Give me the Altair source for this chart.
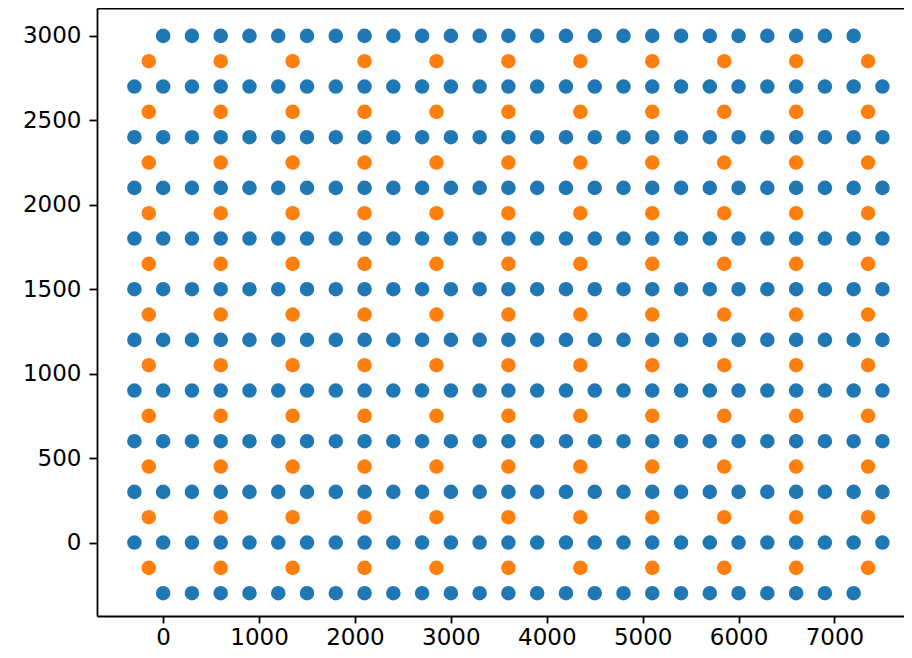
import altair as alt
import pandas as pd

# Blue grid: rows and their x positions
blue_rows_full = [0, 300, 600, 900, 1200, 1500, 1800, 2100, 2400, 2700]
blue_rows_edge = [-300, 3000]
blue_x_full = [-300, 0, 300, 600, 900, 1200, 1500, 1800, 2100, 2400, 2700, 3000, 3300, 3600,
               3900, 4200, 4500, 4800, 5100, 5400, 5700, 6000, 6300, 6600, 6900, 7200, 7500]
blue_x_edge = [0, 300, 600, 900, 1200, 1500, 1800, 2100, 2400, 2700, 3000, 3300, 3600,
               3900, 4200, 4500, 4800, 5100, 5400, 5700, 6000, 6300, 6600, 6900, 7200]

# Orange grid
orange_x = [-150, 600, 1350, 2100, 2850, 3600, 4350, 5100, 5850, 6600, 7350]
orange_y = [-150, 150, 450, 750, 1050, 1350, 1650, 1950, 2250, 2550, 2850]

x_ticks = [0, 1000, 2000, 3000, 4000, 5000, 6000, 7000]
y_ticks = [0, 500, 1000, 1500, 2000, 2500, 3000]

rows = []
for yv in blue_rows_edge:
    for xv in blue_x_edge:
        rows.append({"x": xv, "y": yv, "s": "a"})
for yv in blue_rows_full:
    for xv in blue_x_full:
        rows.append({"x": xv, "y": yv, "s": "a"})
for yv in orange_y:
    for xv in orange_x:
        rows.append({"x": xv, "y": yv, "s": "b"})
df = pd.DataFrame(rows)

xscale = alt.Scale(domain=[-690, 7725], nice=False, zero=False)
yscale = alt.Scale(domain=[-435, 3165], nice=False, zero=False)

points = alt.Chart(df).mark_circle(size=212, opacity=1).encode(
    x=alt.X("x:Q", scale=xscale,
            axis=alt.Axis(values=x_ticks, orient="bottom", title=None, format="d",
                          tickSize=7, labelPadding=3)),
    y=alt.Y("y:Q", scale=yscale, axis=alt.Axis(values=y_ticks, title=None, format="d")),
    color=alt.Color("s:N", scale=alt.Scale(domain=["a", "b"], range=["#1f77b4", "#ff7f0e"]), legend=None),
    order=alt.Order("s:N"),
)

top = alt.Chart(alt.Data(values=[{"x": 0}])).mark_point(opacity=0).encode(
    x=alt.X("x:Q", scale=xscale,
            axis=alt.Axis(orient="top", labels=False, ticks=False, domain=True, title=None, grid=False)),
)

chart = alt.layer(points, top).resolve_axis(x="independent").properties(
    width=807,
    height=608,
    autosize=alt.AutoSizeParams(type="none"),
    padding={"left": 89, "top": 0, "right": 0, "bottom": 34},
).configure_view(stroke=None).configure_axis(
    grid=False,
    labelFont="DejaVu Sans",
    labelFontSize=23,
    labelColor="black",
    tickColor="black",
    tickWidth=1.8,
    tickSize=8,
    labelPadding=8,
    domainColor="black",
    domainWidth=1.8,
)

chart.save("out.html", embed_options={"renderer": "svg", "actions": False})
